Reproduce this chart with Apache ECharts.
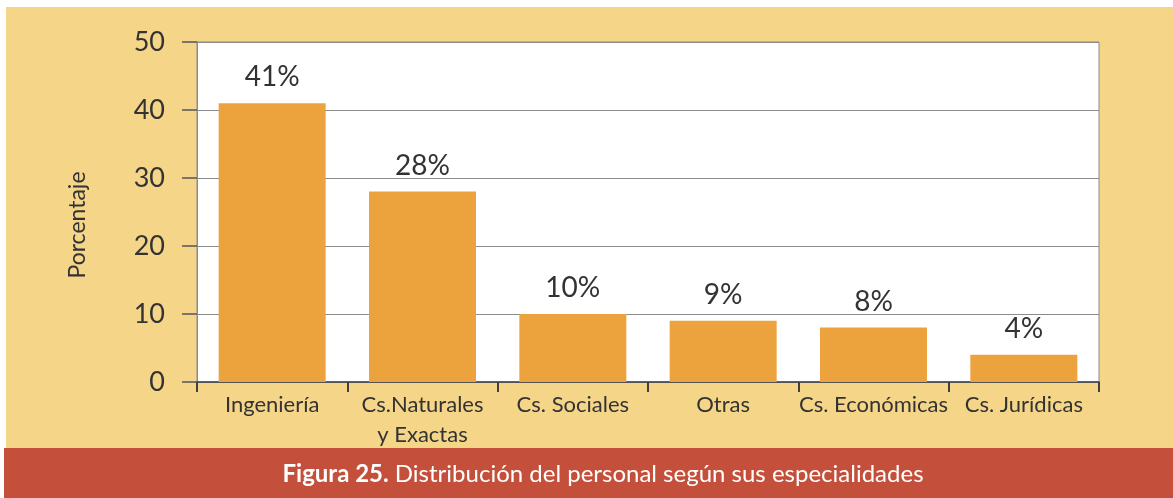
<!DOCTYPE html>
<html><head><meta charset="utf-8">
<script src="https://cdn.jsdelivr.net/npm/echarts@6/dist/echarts.min.js"></script>
<style>html,body{margin:0;padding:0;background:#fff}#c{width:1173px;height:498px}</style>
</head><body><div id="c"></div>
<script>
const categories = ['Ingeniería', 'Cs.Naturales\ny Exactas', 'Cs. Sociales', 'Otras', 'Cs. Económicas', 'Cs. Jurídicas'];
const values = [41, 28, 10, 9, 8, 4];
const yTicks = [0, 10, 20, 30, 40, 50];
const captionBold = 'Figura 25.';
const captionText = ' Distribución del personal según sus especialidades';
const yName = 'Porcentaje';

const FONT = 'Lato';
const chart = echarts.init(document.getElementById('c'));
chart.setOption({
  backgroundColor: '#ffffff',
  animation: false,
  graphic: [
    {type: 'rect', z: -10, shape: {x: 6, y: 7, width: 1167, height: 441}, style: {fill: '#f5d588'}},
    {type: 'rect', z: -10, shape: {x: 4, y: 448, width: 1169, height: 50}, style: {fill: '#c4503b'}},
    {type: 'text', z: 10, x: 603, y: 474, style: {
      text: '{b|' + captionBold + '}{r|' + captionText + '}',
      align: 'center', verticalAlign: 'middle',
      rich: {
        b: {fontFamily: FONT, fontSize: 24, fontWeight: 'bold', fill: '#ffffff'},
        r: {fontFamily: FONT, fontSize: 24, fill: '#ffffff'}
      }
    }}
  ],
  grid: {left: 197, right: 74, top: 42, bottom: 116, show: true, backgroundColor: '#ffffff', borderColor: '#8c8c8c', borderWidth: 1},
  xAxis: {
    type: 'category', data: categories,
    axisLine: {lineStyle: {color: '#404040', width: 1.5}},
    axisTick: {show: true, interval: 0, length: 10, lineStyle: {color: '#404040', width: 2}},
    axisLabel: {interval: 0, color: '#333', fontFamily: FONT, fontSize: 22, lineHeight: 30, margin: 8}
  },
  yAxis: {
    type: 'value', min: yTicks[0], max: yTicks[yTicks.length - 1], interval: 10,
    name: yName, nameLocation: 'middle', nameRotate: 90, nameGap: 108,
    nameTextStyle: {color: '#333', fontFamily: FONT, fontSize: 23, padding: [0, 26, 0, 0]},
    axisLine: {show: true, lineStyle: {color: '#8c8c8c', width: 1}},
    axisTick: {show: true, inside: false, length: 15, lineStyle: {color: '#555', width: 1.5}},
    axisLabel: {color: '#333', fontFamily: FONT, fontSize: 27, margin: 32},
    splitLine: {lineStyle: {color: '#8c8c8c', width: 1}}
  },
  series: [{
    type: 'bar', data: values, barWidth: 107,
    itemStyle: {color: '#eca33d'},
    label: {show: true, position: 'top', distance: 12, formatter: '{c}%', color: '#333', fontFamily: FONT, fontSize: 28}
  }]
});
</script></body></html>
